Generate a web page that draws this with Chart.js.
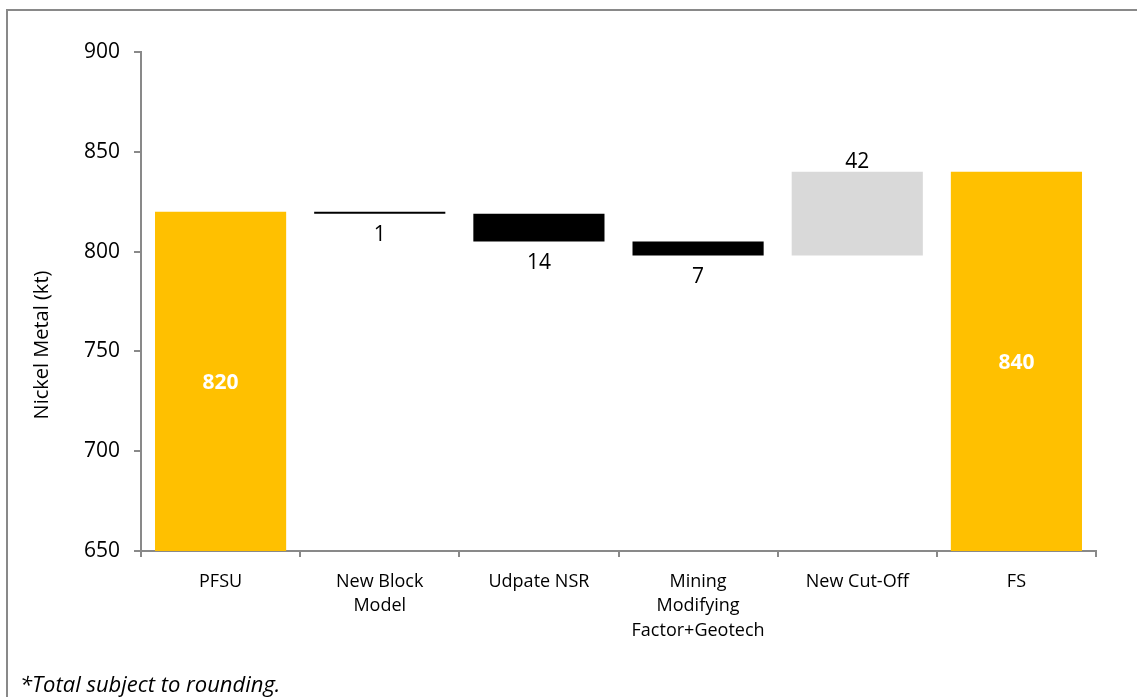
<!DOCTYPE html>
<html>
<head>
<meta charset="utf-8">
<script src="https://cdn.jsdelivr.net/npm/chart.js@4.4.1/dist/chart.umd.min.js"></script>
<style>
  html, body { margin: 0; padding: 0; background: #ffffff; }
  #wrap { width: 1137px; height: 697px; position: relative; }
  canvas { display: block; }
</style>
</head>
<body>
<div id="wrap"><canvas id="c" width="1137" height="697"></canvas></div>
<script>
// Nickel metal bridge, PFSU to FS (kt)
const categories = ['PFSU', ['New Block', 'Model'], 'Udpate NSR', ['Mining', 'Modifying', 'Factor+Geotech'], 'New Cut-Off', 'FS'];
const totals  = [820, null, null, null, null, 840];
const changes = [null, -1, -14, -7, 42, null];
const yMin = 650, yMax = 900, yStep = 50;

const FONT = "'Open Sans', 'DejaVu Sans', sans-serif";
const GOLD = '#FFC000', DOWN = '#000000', UP = '#D9D9D9', AXIS = '#898989';

// floating ranges for the waterfall
let running = 0;
const ranges = [], colors = [], kinds = [];
for (let i = 0; i < categories.length; i++) {
  if (totals[i] !== null) {
    running = totals[i];
    ranges.push([0, totals[i]]);
    colors.push(GOLD);
    kinds.push('total');
  } else {
    const start = running;
    running = start + changes[i];
    ranges.push([Math.min(start, running), Math.max(start, running)]);
    colors.push(changes[i] < 0 ? DOWN : UP);
    kinds.push(changes[i] < 0 ? 'down' : 'up');
  }
}
const labelValues = categories.map((_, i) => totals[i] !== null ? totals[i] : Math.abs(changes[i]));

const frame = {
  id: 'frame',
  beforeDraw(chart) {
    const ctx = chart.ctx;
    ctx.save();
    ctx.fillStyle = '#ffffff';
    ctx.fillRect(0, 0, chart.width, chart.height);
    ctx.strokeStyle = AXIS;
    ctx.lineWidth = 2;
    ctx.beginPath();
    ctx.moveTo(7, chart.height + 5);
    ctx.lineTo(7, 10);
    ctx.lineTo(chart.width + 5, 10);
    ctx.stroke();
    ctx.restore();
  },
  afterDraw(chart) {
    const ctx = chart.ctx;
    ctx.save();
    // axis title
    ctx.fillStyle = '#000000';
    ctx.font = `20px ${FONT}`;
    ctx.textAlign = 'center';
    ctx.textBaseline = 'middle';
    ctx.translate(42, 345);
    ctx.rotate(-Math.PI / 2);
    ctx.fillText('Nickel Metal (kt)', 0, 0);
    ctx.restore();
    // footnote
    ctx.save();
    ctx.fillStyle = '#000000';
    ctx.font = `italic 22px ${FONT}`;
    ctx.textAlign = 'left';
    ctx.textBaseline = 'alphabetic';
    ctx.fillText('*Total subject to rounding.', 20, 692);
    ctx.restore();
  }
};

const valueLabels = {
  id: 'valueLabels',
  afterDatasetsDraw(chart) {
    const ctx = chart.ctx;
    const area = chart.chartArea;
    const meta = chart.getDatasetMeta(0);
    ctx.save();
    ctx.textAlign = 'center';
    meta.data.forEach((bar, i) => {
      const p = bar.getProps(['x', 'y', 'base'], true);
      const top = Math.min(p.y, p.base);
      const bottom = Math.min(Math.max(p.y, p.base), area.bottom);
      const txt = String(labelValues[i]);
      if (kinds[i] === 'total') {
        ctx.fillStyle = '#ffffff';
        ctx.font = `bold 21px ${FONT}`;
        ctx.textBaseline = 'middle';
        ctx.fillText(txt, p.x, (top + bottom) / 2 + 2);
      } else if (kinds[i] === 'down') {
        ctx.fillStyle = '#000000';
        ctx.font = `21px ${FONT}`;
        ctx.textBaseline = 'middle';
        ctx.fillText(txt, p.x, bottom + 21);
      } else {
        ctx.fillStyle = '#000000';
        ctx.font = `21px ${FONT}`;
        ctx.textBaseline = 'middle';
        ctx.fillText(txt, p.x, top - 10);
      }
    });
    ctx.restore();
  }
};

new Chart(document.getElementById('c'), {
  type: 'bar',
  data: {
    labels: categories,
    datasets: [{
      data: ranges,
      backgroundColor: colors,
      borderWidth: 0,
      categoryPercentage: 1,
      barPercentage: 0.824
    }]
  },
  options: {
    responsive: false,
    animation: false,
    devicePixelRatio: 1,
    layout: { padding: { top: 52, right: 41, left: 0, bottom: 0 } },
    plugins: { legend: { display: false }, tooltip: { enabled: false } },
    scales: {
      x: {
        offset: true,
        grid: { offset: true, drawOnChartArea: false, drawTicks: true, tickLength: 6, color: AXIS, lineWidth: 2 },
        border: { color: AXIS, width: 2 },
        ticks: { color: '#000000', font: { family: FONT, size: 18, lineHeight: 1.38 }, padding: 12, maxRotation: 0, autoSkip: false },
        afterFit(scale) { scale.height = 146; }
      },
      y: {
        min: yMin, max: yMax,
        grid: { drawOnChartArea: false, drawTicks: true, tickLength: 7, color: AXIS, lineWidth: 2 },
        border: { color: AXIS, width: 2 },
        ticks: { stepSize: yStep, color: '#000000', font: { family: FONT, size: 21 }, padding: 14 },
        afterFit(scale) { scale.width = 141; }
      }
    }
  },
  plugins: [frame, valueLabels]
});
</script>
</body>
</html>
